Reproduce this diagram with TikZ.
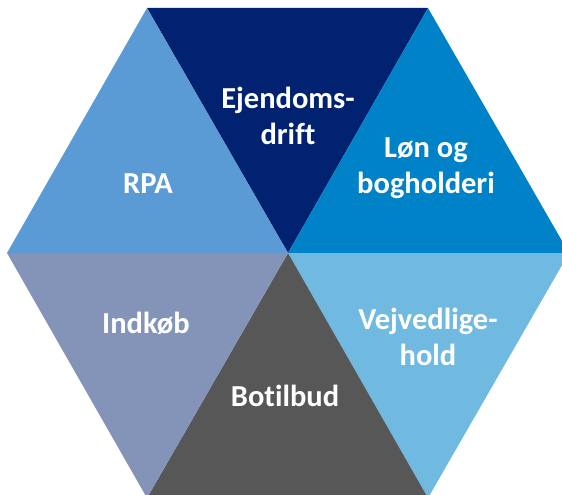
\documentclass[tikz,border=0pt]{standalone}
\usepackage{fontspec}
\setmainfont[Ligatures=NoCommon]{Carlito}
\definecolor{cNavy}{HTML}{002270}
\definecolor{cRPA}{HTML}{5B9BD5}
\definecolor{cLon}{HTML}{0082C8}
\definecolor{cInd}{HTML}{8494B8}
\definecolor{cBot}{HTML}{575757}
\definecolor{cVej}{HTML}{70B9E0}
\begin{document}
\begin{tikzpicture}[x=1pt,y=-1pt,
  lbl/.style={text=white,font=\fontsize{30.5}{36}\selectfont\bfseries,align=center,inner sep=0pt}]
\useasboundingbox (0,0) rectangle (562,495);
\clip (0,0) rectangle (562,495);
\coordinate (C) at (288,253);
\coordinate (TL) at (147,8);
\coordinate (TR) at (428,8);
\coordinate (R) at (569,253);
\coordinate (BR) at (428,498);
\coordinate (BL) at (147,498);
\coordinate (L) at (7,253);
\fill[cNavy] (C) -- (TL) -- (TR) -- cycle;
\fill[cLon] (C) -- (TR) -- (R) -- cycle;
\fill[cVej] (C) -- (R) -- (BR) -- cycle;
\fill[cBot] (C) -- (BR) -- (BL) -- cycle;
\fill[cInd] (C) -- (BL) -- (L) -- cycle;
\fill[cRPA] (C) -- (L) -- (TL) -- cycle;
\node[lbl] (ejd) at (288,116) {Ejendoms-\\drift};
\node[lbl] (rpa) at (148,184) {RPA};
\node[lbl] (lon) at (426,168) {Løn og\\bogholderi};
\node[lbl] (ind) at (146,323) {Indkøb};
\node[lbl] (vej) at (428,337) {Vejvedlige-\\hold};
\node[lbl] (bot) at (285,396) {Botilbud};
\end{tikzpicture}
\end{document}
